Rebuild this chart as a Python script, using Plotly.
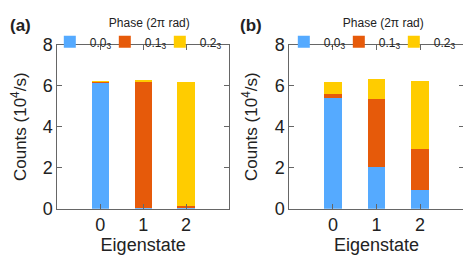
import plotly.graph_objects as go

states = [0, 1, 2]
phase_labels = ["0.0<sub>3</sub>", "0.1<sub>3</sub>", "0.2<sub>3</sub>"]
colors = ["#55aaff", "#e65a0a", "#ffcc00"]

# panel (a): counts per phase component for each eigenstate (10^4/s)
a_phase0 = [6.18, 0.04, 0.04]
a_phase1 = [0.03, 6.16, 0.10]
a_phase2 = [0.03, 0.08, 6.06]

# panel (b)
b_phase0 = [5.39, 2.01, 0.91]
b_phase1 = [0.21, 3.35, 1.98]
b_phase2 = [0.57, 0.99, 3.36]

FONT = "Liberation Sans, Arial, sans-serif"
fig = go.Figure()

entry_widths = [10, 10, 44]
for i, vals in enumerate([a_phase0, a_phase1, a_phase2]):
    fig.add_trace(go.Bar(x=states, y=vals, name=phase_labels[i], marker_color=colors[i],
                         marker_line_width=0, width=0.4, xaxis="x", yaxis="y",
                         legend="legend", legendwidth=entry_widths[i]))
for i, vals in enumerate([b_phase0, b_phase1, b_phase2]):
    fig.add_trace(go.Bar(x=states, y=vals, name=phase_labels[i], marker_color=colors[i],
                         marker_line_width=0, width=0.4, xaxis="x2", yaxis="y2",
                         legend="legend2", legendwidth=entry_widths[i]))

axis_common = dict(showline=True, linecolor="#666666", linewidth=1, mirror="ticks",
                   ticks="inside", ticklen=5, tickcolor="#666666", showgrid=False,
                   zeroline=False, tickfont=dict(size=18, family=FONT, color="#222"))

legend_common = dict(orientation="h", y=0.985, xanchor="left", yanchor="top",
                     itemwidth=30, traceorder="normal",
                     font=dict(size=12, family=FONT, color="#222"),
                     title=dict(text="Phase (2π rad)", side="top center",
                                font=dict(size=12, family=FONT, color="#222")),
                     bgcolor="rgba(0,0,0,0)", tracegroupgap=0)

# page body has an 8px margin: figure is 463x251 placed at (8, 8)
fig.update_layout(
    width=463, height=251, margin=dict(l=0, r=0, t=0, b=0, autoexpand=False),
    paper_bgcolor="white", plot_bgcolor="white", barmode="stack",
    xaxis=dict(domain=[0.1065, 0.4773], range=[-1, 3], tickvals=states, anchor="y",
               title=dict(text="Eigenstate", font=dict(size=18, family=FONT, color="#222"), standoff=2),
               **axis_common),
    yaxis=dict(domain=[0.2004, 0.8538], range=[0, 8], tickvals=[0, 2, 4, 6, 8], anchor="x",
               title=dict(text="Counts (10<sup>4</sup>/s)", font=dict(size=17, family=FONT, color="#222"), standoff=12),
               **axis_common),
    xaxis2=dict(domain=[0.6076, 0.9842], range=[-1, 3], tickvals=states, anchor="y2",
                title=dict(text="Eigenstate", font=dict(size=18, family=FONT, color="#222"), standoff=2),
                **axis_common),
    yaxis2=dict(domain=[0.2004, 0.8538], range=[0, 8], tickvals=[0, 2, 4, 6, 8], anchor="x2",
                title=dict(text="Counts (10<sup>4</sup>/s)", font=dict(size=17, family=FONT, color="#222"), standoff=12),
                **axis_common),
    legend=dict(x=0.0903, **legend_common),
    legend2=dict(x=0.5957, **legend_common),
    annotations=[
        dict(text="<b>(a)</b>", x=0.0, y=0.932, xref="paper", yref="paper", showarrow=False,
             xanchor="left", yanchor="middle", font=dict(size=17, family=FONT, color="#222")),
        dict(text="<b>(b)</b>", x=0.4968, y=0.932, xref="paper", yref="paper", showarrow=False,
             xanchor="left", yanchor="middle", font=dict(size=17, family=FONT, color="#222")),
    ],
)

fig.write_html("out.html")
